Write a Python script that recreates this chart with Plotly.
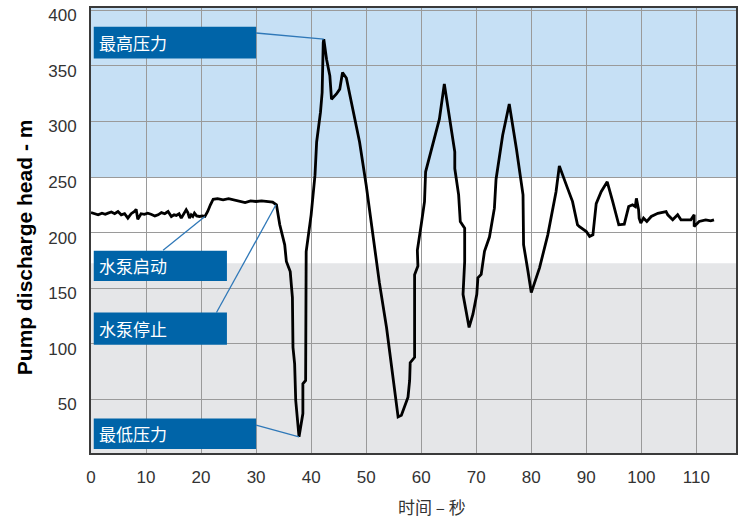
import plotly.graph_objects as go

# Pump discharge head trace after start-up and trip (time in s, head in m)
time_s = [
    0, 0.6, 1.3, 2.0, 2.6, 3.1, 3.7, 4.3, 4.9, 5.5, 6.1, 6.7, 7.3, 7.9, 8.2, 8.5,
    9.1, 9.7, 10.3, 10.9, 11.6, 12.2, 12.8, 13.4, 14.0, 14.6, 15.1, 15.5, 16.0,
    16.4, 16.7, 17.0, 17.3, 17.6, 17.9, 18.2, 18.5, 18.8, 19.2, 19.7, 20.3,
    20.7, 21.2, 21.7, 22.2, 23.0, 24.0, 25.0, 26.0, 27.0, 28.0, 29.0, 30.0, 31.0,
    32.0, 33.0, 33.7,
    34.3, 35.2, 35.5, 36.2, 36.6, 36.7, 37.0, 37.2, 37.6, 37.8, 38.2, 38.5, 38.5,
    39.0, 39.1, 40.0, 40.7, 41.0, 41.7, 42.0, 42.2, 42.3, 42.8, 43.4, 43.7, 44.6,
    45.2, 45.7, 46.4, 47.6, 48.8, 50.0, 51.2, 52.4, 53.7, 54.9, 55.8, 56.4, 57.6,
    57.9, 58.0, 58.8, 58.8, 59.4, 59.3, 60.0, 60.6, 60.8, 62.1, 63.3, 64.2, 65.2,
    66.1, 66.1, 66.8, 67.1, 67.9, 67.9, 67.6, 68.7, 69.4, 70.1, 70.3, 70.9, 71.5,
    72.4, 73.3, 73.6, 74.2, 74.8, 76.0, 77.3, 78.5, 78.6, 79.4, 80.0, 81.5, 83.0,
    84.5, 85.1, 86.6, 87.5, 88.4, 88.7, 90.0, 90.6, 91.2, 91.8, 92.7, 93.8, 94.8,
    95.9, 96.9, 97.7, 98.4, 98.9, 99.1, 99.5, 99.6, 99.9, 100.4, 101.0, 101.8,
    103.0, 104.5, 104.8, 105.7, 106.6, 107.2, 109.0, 109.6, 109.6, 110.5, 111.7,
    112.6, 113.2,
]
head_m = [
    218, 217, 216, 217.5, 216.5, 217.5, 218.5, 217, 219, 216, 217, 213, 217, 219,
    221, 212, 217, 216.5, 217.5, 216.5, 215, 216, 218, 217, 219, 214.5, 216, 215.5,
    217, 213, 216, 218, 220.5, 218, 213, 216, 214.5, 217.5, 215, 214.5, 215,
    214.5, 219, 225, 230, 230.5, 229.5, 230.5, 229.5, 228, 227, 228.5, 228, 228.5,
    228, 227.5, 225,
    207, 189, 174, 165, 141.5, 96.8, 82, 49, 25.3, 16.4, 28.3, 37.3, 64,
    67, 183, 216, 251.7, 281.5, 308.3, 326, 370.9, 374, 356, 341, 320, 324.7,
    329, 344, 339, 311, 281.5, 242.8, 201, 155, 114.7, 70, 34.2, 35.7, 52,
    67, 83, 87.8, 162, 170, 184, 207, 227.9, 254.7, 278.5, 302, 333.6, 299.4,
    272.6, 257.6, 233.9, 210, 204, 174, 144.5, 114.7, 126.6, 144.5, 159.3, 162.4,
    183.2, 196, 222, 248, 266, 287.5, 315.7, 275.5, 233.9, 189.2, 165.3, 146,
    168.3, 198, 236.8, 260, 239.8, 227.9, 207, 205.5, 201, 196.6, 198, 226,
    236.8, 245.7, 227.9, 207, 207.6, 223.4, 225, 223.4, 230.8, 220.5, 213, 208.5,
    213, 210, 214.5, 217.4, 218.9, 216, 211.5, 216, 211.5, 211.5, 216, 205.5,
    210, 211.5, 210.6, 211.5,
]

x_ticks = [0, 10, 20, 30, 40, 50, 60, 70, 80, 90, 100, 110]
y_ticks = [50, 100, 150, 200, 250, 300, 350, 400]

# Pressure zones
high_zone = (250, 402)
low_zone = (0, 172.5)

# Callout boxes: label, x-extent, y-extent, leader line (from, to)
callout_labels = ["最高压力", "水泵启动", "水泵停止", "最低压力"]
callout_x = [(0.5, 30.0), (0.5, 24.7), (0.5, 24.7), (0.5, 30.0)]
callout_y = [(356.6, 385.2), (156.4, 183.8), (99.2, 128.1), (5.4, 32.8)]
leader_from = [(30.0, 379.5), (13.1, 184.1), (22.8, 128.1), (30.0, 26.8)]
leader_to = [(42.3, 374.0), (20.7, 214.5), (33.6, 225.0), (37.8, 16.4)]

BOX_BLUE = "#0064a8"
LEADER_BLUE = "#2f78b8"
AXIS_FONT = "Liberation Sans, Arial, Helvetica, sans-serif"
CJK_FONT = "Noto Sans CJK SC, sans-serif"

fig = go.Figure()

fig.add_trace(go.Scatter(
    x=time_s, y=head_m, mode="lines",
    line=dict(color="#000000", width=2.8),
    hoverinfo="skip", showlegend=False,
))

shapes = [
    dict(type="rect", xref="paper", yref="y", x0=0, x1=1,
         y0=high_zone[0], y1=high_zone[1], fillcolor="#c6e0f5",
         line=dict(width=0), layer="below"),
    dict(type="rect", xref="paper", yref="y", x0=0, x1=1,
         y0=low_zone[0], y1=low_zone[1], fillcolor="#e5e6e8",
         line=dict(width=0), layer="below"),
]
annotations = []
for label, (bx0, bx1), (by0, by1), (fx, fy), (tx, ty) in zip(
        callout_labels, callout_x, callout_y, leader_from, leader_to):
    shapes.append(dict(type="line", xref="x", yref="y", x0=fx, y0=fy, x1=tx, y1=ty,
                       line=dict(color=LEADER_BLUE, width=1.3), layer="above"))
    shapes.append(dict(type="rect", xref="x", yref="y", x0=bx0, x1=bx1, y0=by0, y1=by1,
                       fillcolor=BOX_BLUE, line=dict(width=0), layer="above"))
    annotations.append(dict(
        x=bx0 + 0.6, y=(by0 + by1) / 2, xref="x", yref="y",
        text=label, showarrow=False, xanchor="left", yanchor="middle",
        font=dict(family=CJK_FONT, size=17, color="#ffffff"),
    ))

annotations.append(dict(
    x=-0.102, y=0.463, xref="paper", yref="paper",
    text="<b>Pump discharge head - m</b>", showarrow=False, textangle=-90,
    xanchor="center", yanchor="middle",
    font=dict(family=AXIS_FONT, size=21, color="#000000"),
))
annotations.append(dict(
    x=0.528, y=-0.12, xref="paper", yref="paper",
    text="时间 – 秒", showarrow=False, xanchor="center", yanchor="middle",
    font=dict(family=CJK_FONT, size=17, color="#333333"),
))

fig.update_layout(
    width=744, height=519,
    margin=dict(l=91, r=7, t=6, b=66),
    plot_bgcolor="#ffffff", paper_bgcolor="#ffffff",
    shapes=shapes, annotations=annotations,
    showlegend=False,
)
fig.update_xaxes(
    range=[0, 117.2], tickvals=x_ticks, ticktext=[str(v) for v in x_ticks],
    showgrid=True, gridcolor="#9a9a9a", gridwidth=1.3,
    showline=True, linecolor="#3a3a3a", linewidth=2, mirror=True,
    ticks="", zeroline=False, ticklabelstandoff=8,
    tickfont=dict(family=AXIS_FONT, size=17, color="#333333"),
)
fig.update_yaxes(
    range=[1.8, 402], tickvals=y_ticks, ticktext=[str(v) for v in y_ticks],
    showgrid=True, gridcolor="#9a9a9a", gridwidth=1.3,
    showline=True, linecolor="#3a3a3a", linewidth=2, mirror=True,
    ticks="", zeroline=False, ticklabelstandoff=9, ticklabelshift=5,
    tickfont=dict(family=AXIS_FONT, size=17, color="#333333"),
)

fig.write_html("out.html")
